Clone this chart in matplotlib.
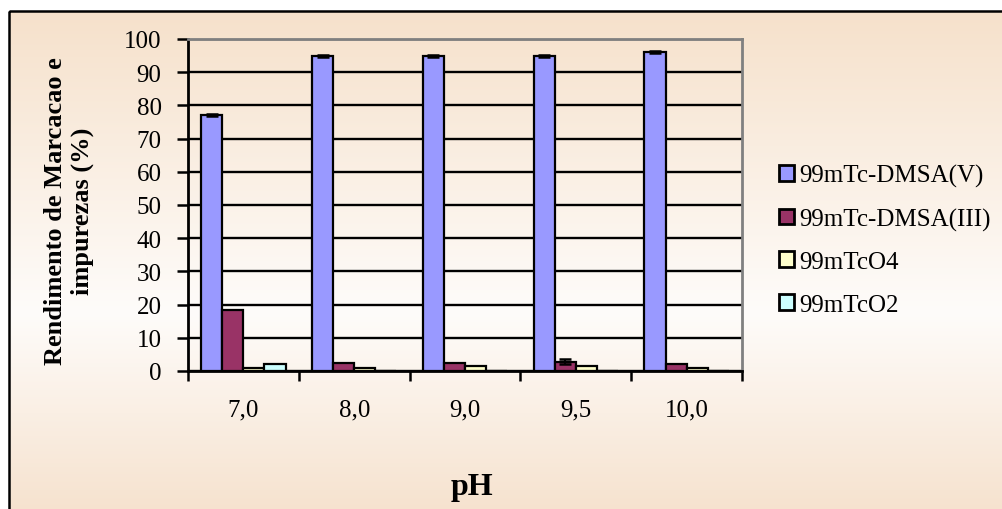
import matplotlib
matplotlib.use("Agg")
import matplotlib.pyplot as plt
import numpy as np
from matplotlib.patches import Patch, Rectangle
from matplotlib.colors import to_rgb

# pH values tested and the labelling yield / impurity fractions (%)
ph_labels = ["7,0", "8,0", "9,0", "9,5", "10,0"]
series_names = ["99mTc-DMSA(V)", "99mTc-DMSA(III)", "99mTcO4", "99mTcO2"]
dmsa_v = [77, 95, 95, 95, 96]
dmsa_iii = [18.5, 2.5, 2.5, 2.8, 2.0]
tco4 = [1.0, 1.0, 1.5, 1.5, 1.0]
tco2 = [2.0, 0.0, 0.0, 0.0, 0.0]
dmsa_v_err = [0.3, 0.3, 0.3, 0.3, 0.3]
dmsa_iii_err = [0.0, 0.0, 0.0, 0.8, 0.0]
tco4_err = [0.0, 0.0, 0.0, 0.0, 0.0]
tco2_err = [0.0, 0.0, 0.0, 0.0, 0.0]

colors = ["#9999FF", "#993366", "#FFFFCC", "#CCFFFF"]
serif = ["Liberation Serif", "DejaVu Serif"]

W, H = 1002, 510
fig = plt.figure(figsize=(W / 100, H / 100), dpi=100)

# background: white margin, framed peach-white-peach vertical gradient
bg = fig.add_axes([0, 0, 1, 1], zorder=0)
bg.set_xlim(0, W)
bg.set_ylim(H, 0)
bg.axis("off")
peach_top = np.array(to_rgb("#F6E1CB"))
light = np.array(to_rgb("#FEFCFA"))
peach_bot = np.array(to_rgb("#F6E2CE"))
t = np.linspace(0, 1, 256)
stops = [0.0, 0.6, 1.0]
grad = np.stack([np.interp(t, stops, [peach_top[c], light[c], peach_bot[c]]) for c in range(3)], axis=-1)
bg.imshow(grad[:, None, :], extent=(10, W + 5, H + 5, 12), aspect="auto", interpolation="bilinear")
bg.add_patch(Rectangle((9.5, 11.5), W + 20, H + 20, fill=False, edgecolor="black", lw=1.8))

ax = fig.add_axes([188 / W, 1 - 372 / H, (742 - 188) / W, (372 - 40) / H], zorder=1)
ax.set_facecolor("none")

series = [dmsa_v, dmsa_iii, tco4, tco2]
errors = [dmsa_v_err, dmsa_iii_err, tco4_err, tco2_err]
n_groups = len(ph_labels)
bar_w = 0.19
centers = np.arange(n_groups) + 0.5
for j, (vals, errs, col) in enumerate(zip(series, errors, colors)):
    x = centers + (j - 1.5) * bar_w
    ax.bar(x, vals, width=bar_w, color=col, edgecolor="black", linewidth=1.6, zorder=3)
    errs = np.asarray(errs)
    mask = errs > 0
    if mask.any():
        ax.errorbar(x[mask], np.asarray(vals)[mask], yerr=errs[mask], fmt="none",
                    ecolor="black", elinewidth=1.5, capsize=4, capthick=1.8, zorder=4)

ax.set_xlim(0, n_groups)
ax.set_ylim(0, 100)
ax.set_yticks(np.arange(0, 101, 10))
ax.yaxis.grid(True, color="black", linewidth=1.7, zorder=1)
ax.set_axisbelow(True)

# group boundaries carry the ticks, labels sit at group centres
ax.set_xticks(np.arange(0, n_groups + 1))
ax.set_xticklabels([])
ax.set_xticks(centers, minor=True)
ax.set_xticklabels(ph_labels, minor=True, fontsize=18, family=serif)
ax.tick_params(axis="x", which="major", direction="out", length=7, width=1.8, color="black")
ax.tick_params(axis="x", which="minor", length=0, pad=20)
ax.tick_params(axis="y", direction="out", length=8, width=1.8, pad=11, labelsize=18)
for lbl in ax.get_yticklabels():
    lbl.set_family(serif)

for side in ("left", "bottom"):
    ax.spines[side].set_color("black")
    ax.spines[side].set_linewidth(2.0)
for side in ("top", "right"):
    ax.spines[side].set_color("#808080")
    ax.spines[side].set_linewidth(2.0)

fig.text(69 / W, 1 - 211 / H, "Rendimento de Marcacao e\nimpurezas (%)", rotation=90,
         ha="center", va="center", fontsize=19, fontweight="bold", family=serif,
         multialignment="center", linespacing=1.15)
fig.text(472 / W, 1 - 487 / H, "pH", ha="center", va="center", fontsize=23,
         fontweight="bold", family=serif)

handles = [Patch(facecolor=c, edgecolor="black", linewidth=2.0) for c in colors]
fig.legend(handles, series_names, loc="upper left", bbox_to_anchor=(779 / W, 1 - 165 / H),
           frameon=False, handlelength=0.6, handleheight=0.6, handletextpad=0.2,
           labelspacing=0.82, borderaxespad=0, borderpad=0,
           prop={"family": serif, "size": 18})

fig.savefig("out.png", dpi=100)
